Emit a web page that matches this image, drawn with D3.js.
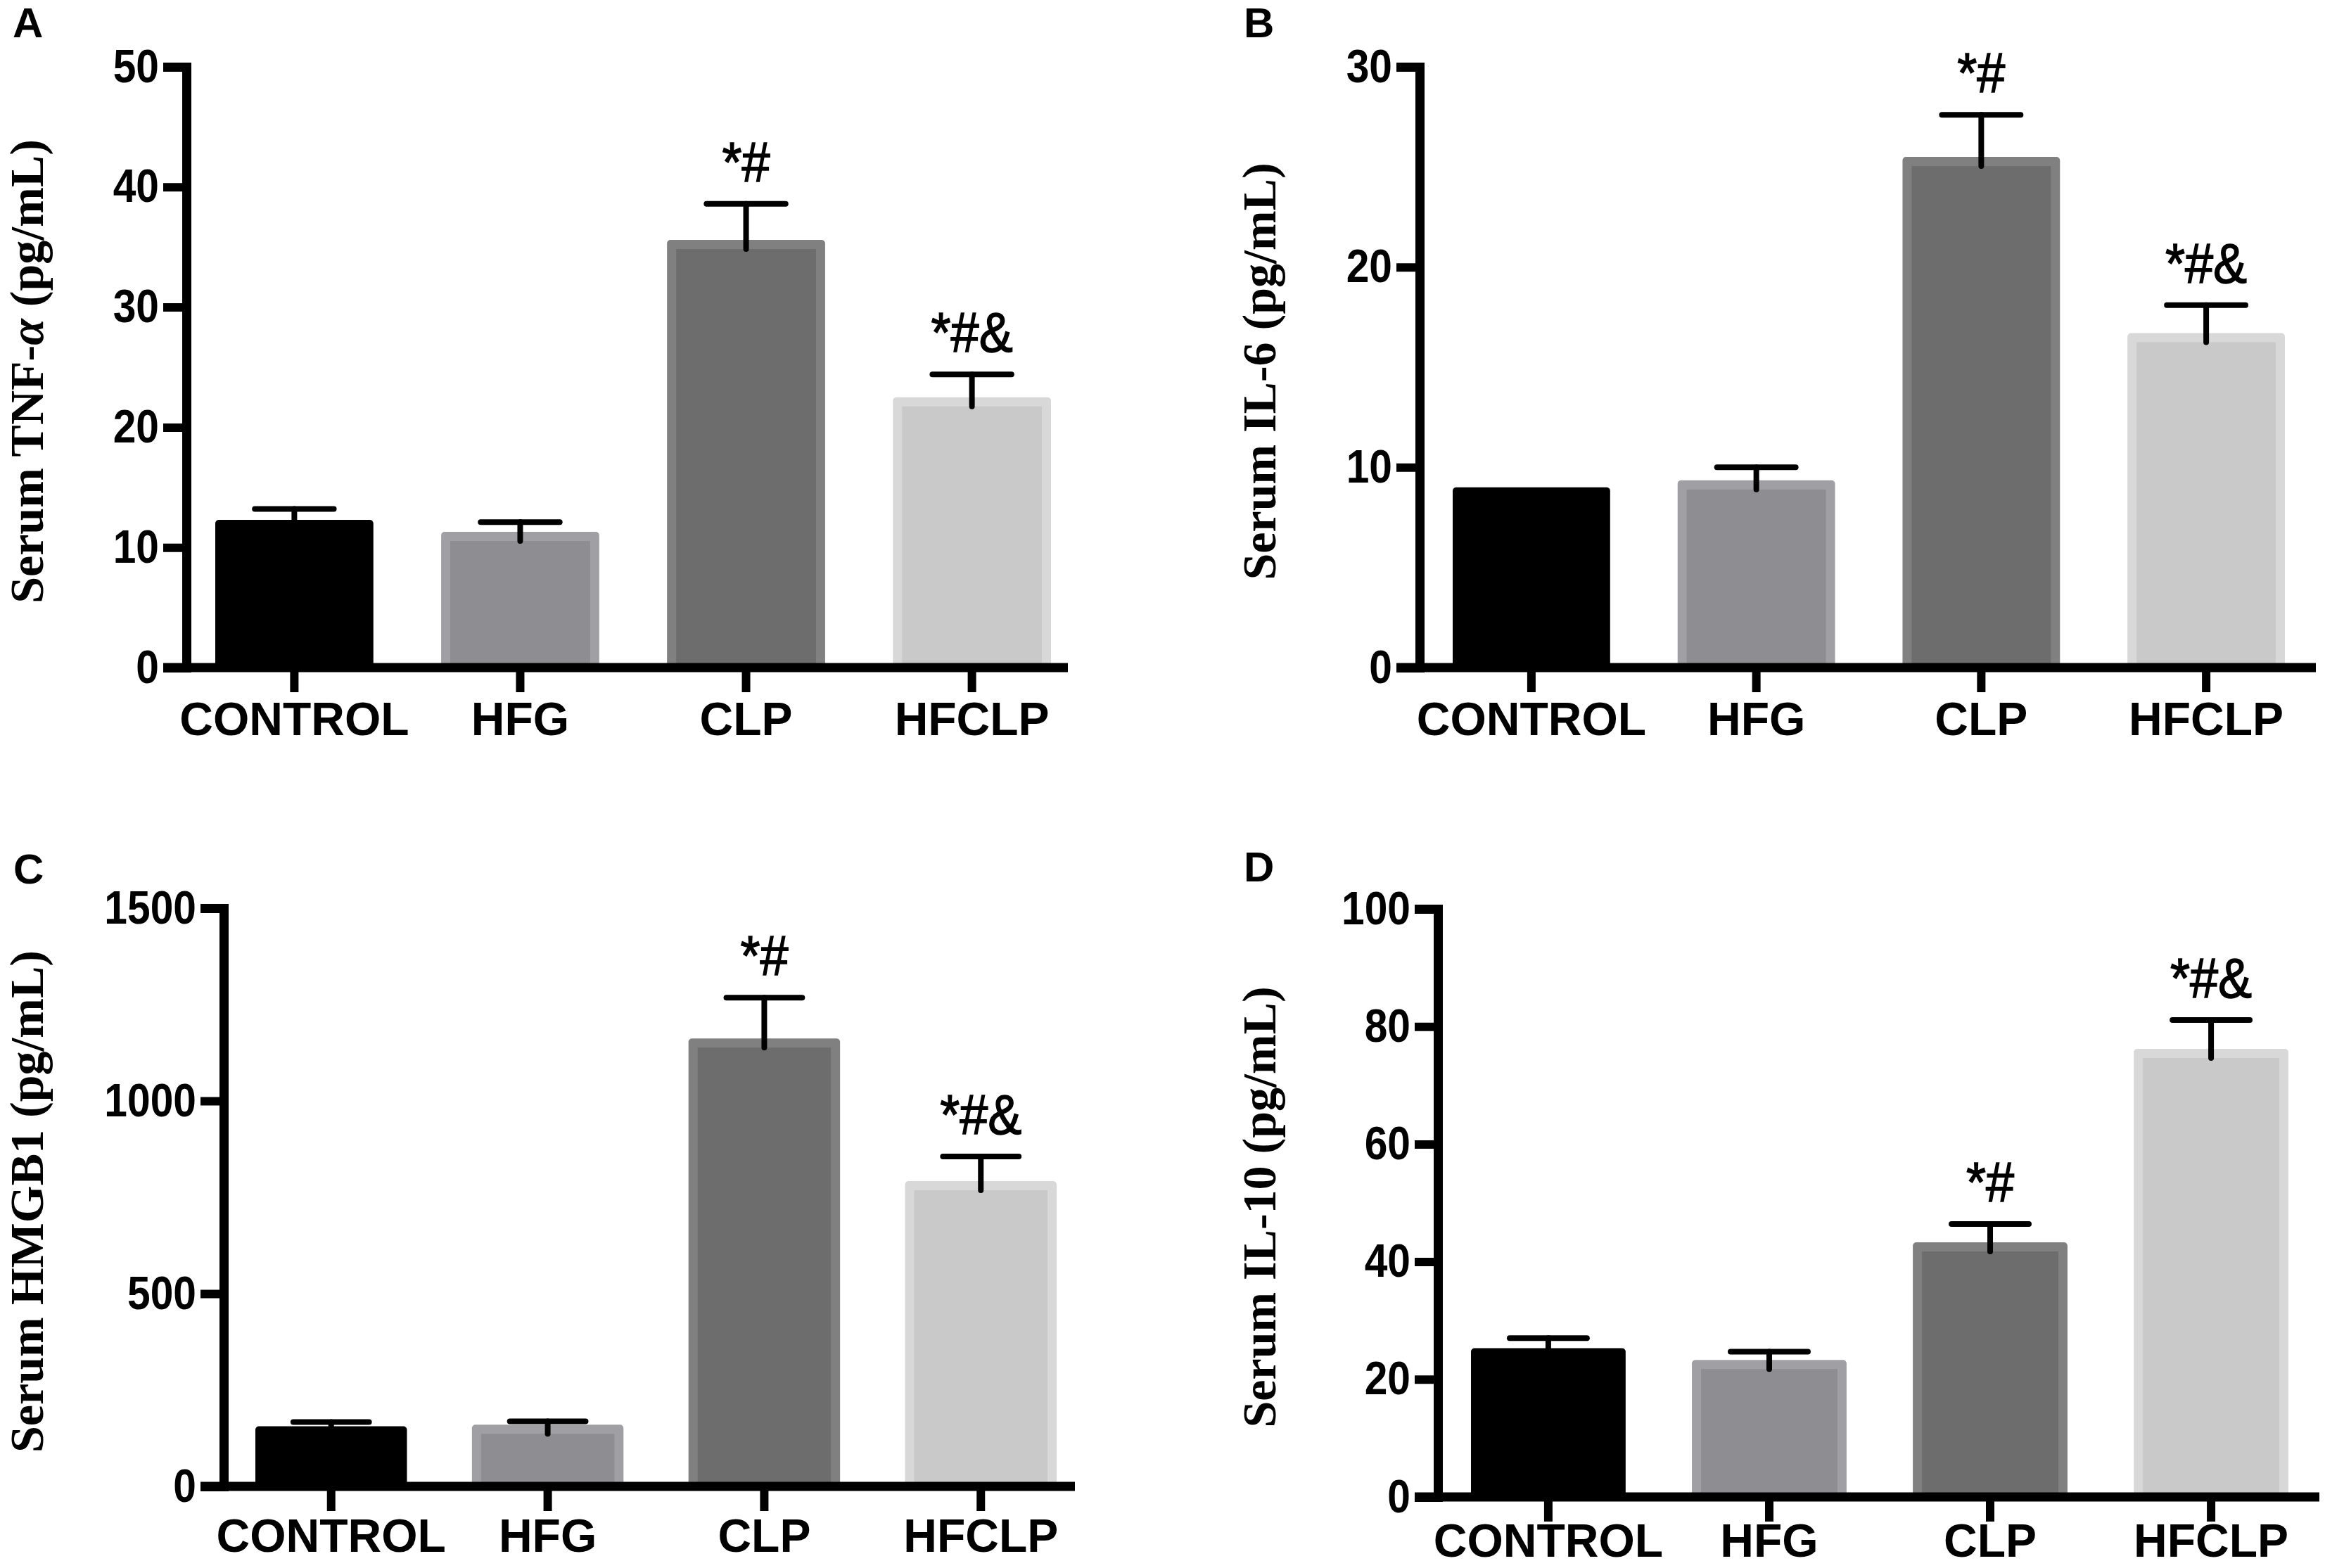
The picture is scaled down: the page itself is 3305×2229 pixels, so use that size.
<!DOCTYPE html>
<html>
<head>
<meta charset="utf-8">
<script src="https://cdn.jsdelivr.net/npm/d3@7"></script>
<style>
  body { margin: 0; background: #fff; }
</style>
</head>
<body>
<div id="chart-area"></div>
<script>
// groups on the x axis, same for every panel
var groups = ["CONTROL", "HFG", "CLP", "HFCLP"];

// means and SEM
var tnfMean  = [12.3, 11.3, 35.6, 22.5];
var tnfSem   = [0.9, 0.8, 3.0, 1.9];
var il6Mean  = [9.0, 9.35, 25.5, 16.7];
var il6Sem   = [0, 0.65, 2.1, 1.4];
var hmgbMean = [156, 160, 1162, 792];
var hmgbSem  = [11, 9, 106, 64];
var il10Mean = [25.3, 23.3, 43.3, 76.2];
var il10Sem  = [1.7, 1.4, 3.1, 4.9];

// y tick values
var tnfTicks  = [0, 10, 20, 30, 40, 50];
var il6Ticks  = [0, 10, 20, 30];
var hmgbTicks = [0, 500, 1000, 1500];
var il10Ticks = [0, 20, 40, 60, 80, 100];

// significance marks per group
var marks = ["", "", "*#", "*#&"];

var fills = ["#000000", "#8e8e92", "#6d6d6d", "#c9c9c9"];
var edges = ["#000000", "#a0a0a4", "#808080", "#d8d8d8"];

var panels = [
    { letter: "A", title: [["Serum TNF-", false], ["α", true], [" (pg/mL)", false]],
      mean: tnfMean, sem: tnfSem, ticks: tnfTicks,
      axisX: 265, top: 95, base: 949, xEnd: 1518, bars: [306, 1494],
      letterX: 18, letterY: 53, titleX: 61, labelY: 96 },
    { letter: "B", title: [["Serum IL-6 (pg/mL)", false]],
      mean: il6Mean, sem: il6Sem, ticks: il6Ticks,
      axisX: 2018, top: 95, base: 949, xEnd: 3292, bars: [2065, 3248],
      letterX: 1768, letterY: 53, titleX: 1813, labelY: 96 },
    { letter: "C", title: [["Serum HMGB1 (pg/mL)", false]],
      mean: hmgbMean, sem: hmgbSem, ticks: hmgbTicks,
      axisX: 318, top: 1291, base: 2113, xEnd: 1528, bars: [363, 1502],
      letterX: 19, letterY: 1256, titleX: 61, labelY: 93 },
    { letter: "D", title: [["Serum IL-10 (pg/mL)", false]],
      mean: il10Mean, sem: il10Sem, ticks: il10Ticks,
      axisX: 2044, top: 1292, base: 2128, xEnd: 3297, bars: [2091, 3253],
      letterX: 1768, letterY: 1253, titleX: 1813, labelY: 85 }
];

var lw = 13,      // axis line width
    border = 13;  // bar outline width

var svg = d3.select("#chart-area")
    .append("svg")
        .attr("width", 3305)
        .attr("height", 2229);

panels.forEach(function(p) {
    var g = svg.append("g");

    var x = d3.scaleBand()
        .domain(groups)
        .range(p.bars)
        .paddingInner(0.3)
        .paddingOuter(0);

    var y = d3.scaleLinear()
        .domain([0, d3.max(p.ticks)])
        .range([p.base, p.top]);

    var bw = x.bandwidth();

    // Bars: outline colour first, then the fill inset
    groups.forEach(function(k, i) {
        var yt = y(p.mean[i]);
        g.append("rect")
            .attr("x", x(k))
            .attr("y", yt)
            .attr("width", bw)
            .attr("height", p.base - yt)
            .attr("rx", 5)
            .attr("fill", edges[i]);
        g.append("rect")
            .attr("x", x(k) + border)
            .attr("y", yt + border)
            .attr("width", bw - 2 * border)
            .attr("height", p.base - yt - border)
            .attr("fill", fills[i]);
    });

    // Error bars (upper only)
    groups.forEach(function(k, i) {
        if (!p.sem[i]) return;
        var cx = x(k) + bw / 2,
            ye = y(p.mean[i] + p.sem[i]);
        g.append("line")
            .attr("x1", cx).attr("x2", cx)
            .attr("y1", ye).attr("y2", y(p.mean[i]) + border)
            .attr("stroke", "#000").attr("stroke-width", 8)
            .attr("stroke-linecap", "round");
        g.append("line")
            .attr("x1", cx - bw / 4).attr("x2", cx + bw / 4)
            .attr("y1", ye).attr("y2", ye)
            .attr("stroke", "#000").attr("stroke-width", 8)
            .attr("stroke-linecap", "round");
    });

    // Significance marks
    groups.forEach(function(k, i) {
        if (!marks[i]) return;
        g.append("text")
            .attr("x", x(k) + bw / 2)
            .attr("y", y(p.mean[i] + p.sem[i]) - 32)
            .attr("text-anchor", "middle")
            .attr("font-family", "'Liberation Sans', Arial, sans-serif")
            .attr("font-size", "80px")
            .attr("stroke", "#000")
            .attr("stroke-width", 1.5)
            .text(marks[i])
            .each(function() {
                var w = this.getComputedTextLength();
                d3.select(this)
                    .attr("textLength", w * 0.9)
                    .attr("lengthAdjust", "spacingAndGlyphs");
            });
    });

    // X axis line
    g.append("line")
        .attr("x1", p.axisX - 33).attr("x2", p.xEnd)
        .attr("y1", p.base).attr("y2", p.base)
        .attr("stroke", "#000").attr("stroke-width", lw);

    // X ticks and labels
    var xAxisCall = d3.axisBottom(x).tickSize(35).tickPadding(0);
    var xg = g.append("g")
        .attr("transform", "translate(0," + p.base + ")")
        .call(xAxisCall);
    xg.select(".domain").remove();
    xg.selectAll("line").attr("stroke-width", 12);
    xg.selectAll("text")
        .attr("y", p.labelY)
        .attr("dy", 0)
        .attr("fill", "#000")
        .attr("font-family", "'Liberation Sans', Arial, sans-serif")
        .attr("font-weight", "bold")
        .attr("font-size", "66px");

    // Y axis
    var yAxisCall = d3.axisLeft(y)
        .tickValues(p.ticks)
        .tickFormat(d3.format("d"))
        .tickSize(33)
        .tickSizeOuter(33)
        .tickPadding(6);
    var yg = g.append("g")
        .attr("transform", "translate(" + p.axisX + ",0)")
        .call(yAxisCall);
    yg.select(".domain")
        .attr("stroke-width", lw)
        .attr("stroke-linejoin", "miter");
    yg.selectAll("line").attr("stroke-width", 12);
    yg.selectAll("text")
        .attr("fill", "#000")
        .attr("font-family", "'Liberation Sans', Arial, sans-serif")
        .attr("font-weight", "bold")
        .attr("font-size", "66px")
        .each(function() {
            var w = this.getComputedTextLength();
            d3.select(this)
                .attr("textLength", w * 0.89)
                .attr("lengthAdjust", "spacingAndGlyphs");
        });

    // Y title
    var t = g.append("text")
        .attr("transform", "translate(" + p.titleX + "," + ((p.top + p.base) / 2 + 6) + ") rotate(-90)")
        .attr("text-anchor", "middle")
        .attr("font-family", "'Liberation Serif', 'Times New Roman', serif")
        .attr("font-weight", "bold")
        .attr("font-size", "68px");
    p.title.forEach(function(part) {
        t.append("tspan")
            .attr("font-style", part[1] ? "italic" : "normal")
            .text(part[0]);
    });

    // Panel letter
    g.append("text")
        .attr("x", p.letterX)
        .attr("y", p.letterY)
        .attr("font-family", "'Liberation Sans', Arial, sans-serif")
        .attr("font-weight", "bold")
        .attr("font-size", "60px")
        .text(p.letter);
});
</script>
</body>
</html>
